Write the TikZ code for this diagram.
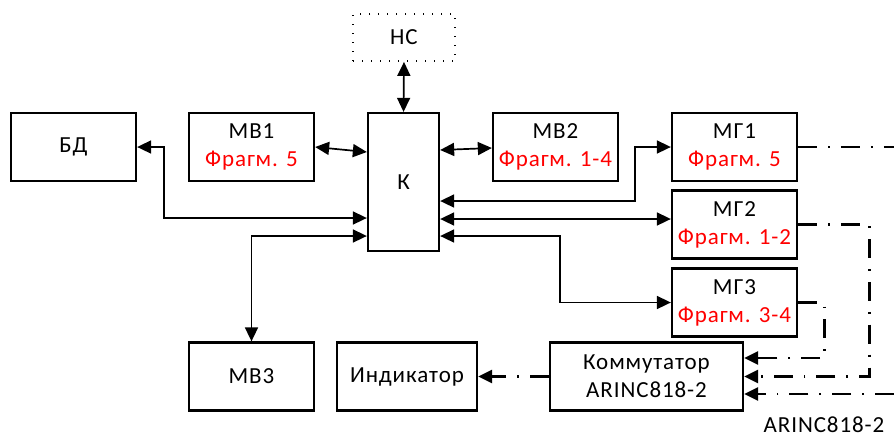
\documentclass[tikz,border=0pt]{standalone}
\usepackage{fontspec}
\setmainfont{Carlito}[LetterSpace=4]
\usetikzlibrary{positioning,arrows.meta,calc}

\begin{document}
\begin{tikzpicture}[
    x=0.5pt, y=-0.5pt,
    font=\fontsize{11.5}{14}\selectfont, >={Triangle[length=7pt,width=6.5pt]},
    unit/.style    ={draw, line width=1.15pt, minimum height=34pt, minimum width=62.5pt, align=center, inner sep=1pt},
    netbox/.style  ={draw, line width=0.9pt, dash pattern=on 0.7pt off 3.8pt, minimum height=23.5pt, minimum width=51pt},
    link/.style    ={<->, line width=0.85pt},
    video/.style   ={line width=1.35pt, dash pattern=on 9.5pt off 5.5pt on 0.9pt off 5.5pt}
]
\useasboundingbox (0,0) rectangle (894,436);

% --- Upper row ---
\node[netbox] (ns) at (404, 37.5) {НС};
\node[unit] (bd)  at (73.5, 147) {БД};
\node[unit] (mv1) at (251.5,147) {МВ1\\\textcolor{red}{Фрагм. 5}};
\node[unit, minimum width=35.5pt, minimum height=69pt] (k) at (403.5,182) {К};
\node[unit] (mv2) at (555.5,147) {МВ2\\\textcolor{red}{Фрагм. 1-4}};

% --- Video modules ---
\node[unit] (mg1) at (734.5,147)   {МГ1\\\textcolor{red}{Фрагм. 5}};
\node[unit] (mg2) at (734.5,224.5) {МГ2\\\textcolor{red}{Фрагм. 1-2}};
\node[unit] (mg3) at (734.5,302.5) {МГ3\\\textcolor{red}{Фрагм. 3-4}};

% --- Lower row ---
\node[unit] (mv3) at (251.5,376.5) {МВ3};
\node[unit, minimum width=70pt] (ind) at (407,376.5) {Индикатор};
\node[unit, minimum width=96.5pt] (kom) at (646.5,376.5) {Коммутатор\\ARINC818-2};
\node (arinc) at (824,425) {ARINC818-2};

% --- Off-picture ends of the ARINC818-2 lines ---
\coordinate (out1) at (894,147);
\coordinate (in3)  at (894,394);

% --- Links to K ---
\draw[link] (ns.south) -- (k.north);
\draw[link] (mv1.east) -- ($(k.west)+(0,-30)$);
\draw[link] ($(k.east)+(0,-32)$) -- ($(mv2.west)+(0,1)$);
\draw[link] ($(k.west)+(0,36)$) -| ($(bd.east)+(27,0)$) -- (bd.east);
\draw[link] ($(k.west)+(0,54)$) -| (mv3.north);
\draw[link] ($(k.east)+(0,19)$) -| ($(mg1.west)+(-36,0)$) -- (mg1.west);
\draw[link] ($(k.east)+(0,37)$) -- ($(mg2.west)+(0,-5.5)$);
\draw[link] ($(k.east)+(0,54)$) -| ($(mg3.west)+(-111,0)$) -- (mg3.west);

% --- ARINC818-2 video lines ---
\draw[video] (mg1.east) -- (out1);
\draw[video, ->] (mg2.east) -| ($(kom.east)+(125,0)$) -- (kom.east);
\draw[video, ->] (mg3.east) -| ($(kom.east)+(80,-18.5)$) -- ($(kom.east)+(0,-18.5)$);
\draw[video, ->] (in3) -- ($(kom.east)+(0,17.5)$);
\draw[video, ->] (kom.west) -- (ind.east);

\end{tikzpicture}
\end{document}
